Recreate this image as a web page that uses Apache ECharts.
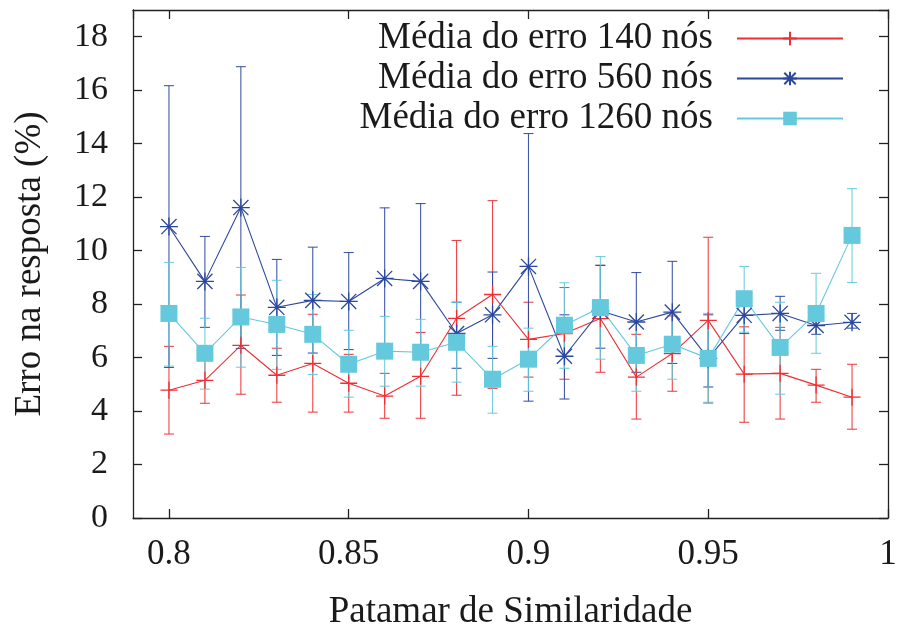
<!DOCTYPE html>
<html>
<head>
<meta charset="utf-8">
<script src="https://cdn.jsdelivr.net/npm/echarts@6/dist/echarts.min.js"></script>
<style>html,body{margin:0;padding:0;background:#fff}#c{width:899px;height:628px}</style>
</head>
<body>
<div id="c"></div>
<script>
const xs = [0.80,0.81,0.82,0.83,0.84,0.85,0.86,0.87,0.88,0.89,0.90,0.91,0.92,0.93,0.94,0.95,0.96,0.97,0.98,0.99];

const seriesNames = ['Média do erro 140 nós','Média do erro 560 nós','Média do erro 1260 nós'];

const redMean = [4.78,5.15,6.46,5.34,5.78,5.04,4.56,5.30,7.47,8.36,6.68,6.90,7.46,5.27,6.15,7.39,5.38,5.41,4.97,4.52];
const redLow  = [3.14,4.29,4.63,4.33,3.96,3.96,3.73,3.73,4.59,4.85,5.27,5.19,5.45,3.70,4.74,4.30,3.58,3.70,4.33,3.32];
const redHigh = [6.42,6.00,8.34,6.35,7.62,6.12,5.41,6.94,10.38,11.87,8.07,8.62,9.45,6.87,7.56,10.50,7.15,7.13,5.56,5.75];

const blueMean = [10.90,8.85,11.61,7.88,8.14,8.10,8.96,8.85,6.90,7.60,9.41,6.05,7.75,7.33,7.70,5.97,7.58,7.65,7.20,7.32];
const blueLow  = [5.63,7.13,6.34,6.08,6.17,6.30,6.30,5.94,5.60,5.97,4.37,4.45,6.35,5.45,5.78,4.90,6.90,7.02,6.87,7.10];
const blueHigh = [16.17,10.53,16.88,9.67,10.13,9.93,11.60,11.76,8.07,9.20,14.38,7.60,9.45,9.18,9.60,7.60,8.30,8.29,7.50,7.65];

const cyanMean = [7.65,6.16,7.52,7.24,6.87,5.75,6.24,6.20,6.57,5.19,5.94,7.21,7.87,6.08,6.50,5.97,8.20,6.38,7.65,10.57];
const cyanLow  = [5.68,4.82,5.64,5.56,5.37,4.52,4.93,4.93,5.08,3.92,4.74,5.60,5.94,4.74,5.19,4.33,6.95,4.63,6.16,8.81];
const cyanHigh = [9.56,7.47,9.37,8.89,8.36,7.02,7.54,7.43,8.07,6.42,7.10,8.80,9.78,7.40,7.66,7.65,9.41,8.07,9.15,12.32];

const RED = '#ee2f33', BLUE = '#2c479e', CYAN = '#64c9dc';
const FONT = 'Liberation Serif';

function pts(mean){ return xs.map((x,i)=>[x, mean[i]]); }
function errs(lo, hi){ return xs.map((x,i)=>[x, lo[i], hi[i]]); }

function errSeries(name, lo, hi, color){
  return {
    type:'custom', name: name, data: errs(lo,hi),
    encode:{x:0, y:[1,2]},
    silent:true,
    renderItem:function(params, api){
      const x = api.value(0);
      const a = api.coord([x, api.value(1)]);
      const b = api.coord([x, api.value(2)]);
      const w = 5;
      const st = {stroke: color, lineWidth: 1.1, opacity: 0.9};
      return {type:'group', children:[
        {type:'line', shape:{x1:a[0],y1:a[1],x2:b[0],y2:b[1]}, style:st},
        {type:'line', shape:{x1:a[0]-w,y1:a[1],x2:a[0]+w,y2:a[1]}, style:st},
        {type:'line', shape:{x1:b[0]-w,y1:b[1],x2:b[0]+w,y2:b[1]}, style:st}
      ]};
    }
  };
}

const PLUS = 'path://M0,5L10,5M5,0L5,10';
const STAR = 'path://M0,5L10,5M5,0L5,10M0.8,0.8L9.2,9.2M0.8,9.2L9.2,0.8';

function lineSeries(name, mean, color, symbol, size, filled){
  return {
    type:'line', name:name, data: pts(mean),
    symbol: symbol, symbolSize: size, showAllSymbol:true,
    lineStyle:{color:color, width:1.1},
    itemStyle: filled ? {color:color, borderWidth:0, opacity:1} : {color:color, borderColor:color, borderWidth:1.3, opacity:1},
    emphasis:{disabled:true},
    animation:false
  };
}

const chart = echarts.init(document.getElementById('c'), null, {renderer:'canvas'});

function xfmt(v){
  const k = Math.round(v/0.05);
  if (Math.abs(v - k*0.05) > 1e-6) return '';
  return String(+v.toFixed(2));
}

const axisLineStyle = {color:'#222', width:1.3};
const TXT = '#1a1a1a';

chart.setOption({
  animation:false,
  backgroundColor:'#fff',
  textStyle:{fontFamily:FONT, color:TXT},
  grid:{left:133, right:11, top:10, bottom:110, containLabel:false, outerBoundsMode:'none'},
  legend:{
    data: seriesNames,
    orient:'vertical', right:50, top:15, align:'right',
    itemWidth:106, itemHeight:17, itemGap:3,
    textStyle:{fontFamily:FONT, fontSize:37, color:TXT, lineHeight:34, padding:[0,19,0,0]},
    selectedMode:false
  },
  xAxis:[{
    type:'value', min:0.79, max:1.0, minInterval:0.05, maxInterval:0.05,
    position:'bottom',
    name:'Patamar de Similaridade', nameLocation:'middle', nameGap:76,
    nameTextStyle:{fontFamily:FONT, fontSize:37, color:TXT},
    axisLine:{show:true, onZero:false, lineStyle:axisLineStyle},
    axisTick:{show:true, inside:true, length:9, lineStyle:axisLineStyle},
    axisLabel:{formatter:xfmt, fontFamily:FONT, fontSize:35, color:TXT, margin:19, showMinLabel:false},
    splitLine:{show:false}
  },{
    type:'value', min:0.79, max:1.0, minInterval:0.05, maxInterval:0.05,
    position:'top',
    axisLine:{show:true, onZero:false, lineStyle:axisLineStyle},
    axisTick:{show:true, inside:true, length:9, lineStyle:axisLineStyle},
    axisLabel:{show:false},
    splitLine:{show:false}
  }],
  yAxis:[{
    type:'value', min:0, max:19, interval:2,
    position:'left',
    name:'Erro na resposta (%)', nameLocation:'middle', nameGap:84,
    nameTextStyle:{fontFamily:FONT, fontSize:37, color:TXT},
    axisLine:{show:true, onZero:false, lineStyle:axisLineStyle},
    axisTick:{show:true, inside:true, length:9, lineStyle:axisLineStyle},
    axisLabel:{fontFamily:FONT, fontSize:34, color:TXT, margin:25, showMaxLabel:false},
    splitLine:{show:false}
  },{
    type:'value', min:0, max:19, interval:2,
    position:'right',
    axisLine:{show:true, onZero:false, lineStyle:axisLineStyle},
    axisTick:{show:true, inside:true, length:9, lineStyle:axisLineStyle},
    axisLabel:{show:false},
    splitLine:{show:false}
  }],
  series:[
    errSeries('err140', redLow, redHigh, RED),
    lineSeries(seriesNames[0], redMean, RED, PLUS, 17, false),
    errSeries('err560', blueLow, blueHigh, BLUE),
    lineSeries(seriesNames[1], blueMean, BLUE, STAR, 18, false),
    errSeries('err1260', cyanLow, cyanHigh, CYAN),
    lineSeries(seriesNames[2], cyanMean, CYAN, 'rect', 17, true)
  ]
});
</script>
</body>
</html>
